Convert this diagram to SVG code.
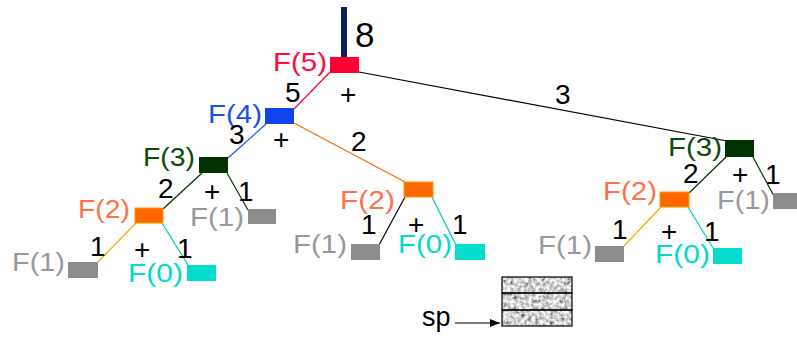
<svg xmlns="http://www.w3.org/2000/svg" width="797" height="338" viewBox="0 0 797 338">
<style>
text{font-family:"Liberation Sans",Arial,sans-serif}
.f{font-size:26.5px}
.n{font-size:28px;fill:#000}
.red{fill:#ff0a3c}
.blue{fill:#1a4ff0}
.dg{fill:#0a4a0a}
.or{fill:#ff7248}
.gr{fill:#999999}
.cy{fill:#00dcc8}
.bred{fill:#ff0033}
.bblue{fill:#1144ee}
.bdg{fill:#003300}
.bor{fill:#ff6600;stroke:#ff9900;stroke-width:1}
.bgr{fill:#8c8c8c}
.bcy{fill:#00ddcc}
line{stroke-width:1.2;fill:none}
</style>
<defs>
<filter id="noise" x="0" y="0" width="1" height="1">
<feTurbulence type="fractalNoise" baseFrequency="0.28" numOctaves="3" seed="7"/>
<feColorMatrix type="saturate" values="0"/>
<feComponentTransfer><feFuncR type="linear" slope="2.2" intercept="-0.45"/><feFuncG type="linear" slope="2.2" intercept="-0.45"/><feFuncB type="linear" slope="2.2" intercept="-0.45"/><feFuncA type="linear" slope="0" intercept="1"/></feComponentTransfer>
</filter>
<marker id="arr" markerWidth="10" markerHeight="8" refX="10" refY="4" orient="auto" markerUnits="userSpaceOnUse">
<path d="M0,0 L10,4 L0,8 Z" fill="#000"/>
</marker>
</defs>
<g id="connectors">
<line x1="330" y1="72" x2="294" y2="109" stroke="#ff0033"/>
<line x1="359" y1="72" x2="727" y2="141" stroke="#000"/>
<line x1="266" y1="124" x2="228" y2="158" stroke="#1a4ff0"/>
<line x1="294" y1="123" x2="405" y2="182" stroke="#ff6600"/>
<line x1="202" y1="173" x2="163" y2="209" stroke="#003300"/>
<line x1="227" y1="173" x2="248" y2="210" stroke="#003300"/>
<line x1="136" y1="223" x2="98" y2="262" stroke="#ffa500"/>
<line x1="162" y1="223" x2="188" y2="265" stroke="#00ccbb"/>
<line x1="405" y1="197" x2="379" y2="245" stroke="#000"/>
<line x1="432" y1="197" x2="456" y2="245" stroke="#00ccbb"/>
<line x1="726" y1="157" x2="689" y2="193" stroke="#003300"/>
<line x1="753" y1="157" x2="774" y2="196" stroke="#003300"/>
<line x1="661" y1="207" x2="624" y2="246" stroke="#ffa500"/>
<line x1="688" y1="207" x2="713" y2="248" stroke="#00ccbb"/>
<line x1="455" y1="323" x2="500" y2="323" stroke="#000" marker-end="url(#arr)"/>
</g>
<g id="root">
<rect x="341" y="7" width="6" height="51" fill="#0a1f5c"/>
<text x="355" y="47" font-size="35" fill="#000">8</text>
</g>
<g id="F5">
<rect class="bred" x="330" y="57" width="29" height="16"/>
<text class="f red" x="273" y="71" textLength="54" lengthAdjust="spacingAndGlyphs">F(5)</text>
<text class="n" x="285" y="102">5</text>
<text class="n" x="340" y="104">+</text>
<text class="n" x="555" y="104">3</text>
</g>
<g id="F4">
<rect class="bblue" x="265" y="108" width="29" height="16"/>
<text class="f blue" x="208" y="123" textLength="54" lengthAdjust="spacingAndGlyphs">F(4)</text>
<text class="n" x="229" y="144">3</text>
<text class="n" x="273" y="149">+</text>
<text class="n" x="351" y="151">2</text>
</g>
<g id="F3a">
<rect class="bdg" x="199" y="157" width="29" height="16"/>
<text class="f dg" x="143" y="166" textLength="52" lengthAdjust="spacingAndGlyphs">F(3)</text>
<text class="n" x="158" y="198">2</text>
<text class="n" x="204" y="201">+</text>
<text class="n" x="238" y="201">1</text>
</g>
<g id="F1a">
<rect class="bgr" x="248" y="209" width="28" height="15"/>
<text class="f gr" x="190" y="226" textLength="54" lengthAdjust="spacingAndGlyphs">F(1)</text>
</g>
<g id="F2a">
<rect class="bor" x="135" y="208" width="28" height="15"/>
<text class="f or" x="78" y="218" textLength="52" lengthAdjust="spacingAndGlyphs">F(2)</text>
<text class="n" x="90" y="256">1</text>
<text class="n" x="134" y="259">+</text>
<text class="n" x="177" y="258">1</text>
</g>
<g id="F1b">
<rect class="bgr" x="68" y="262" width="30" height="16"/>
<text class="f gr" x="12" y="271" textLength="53" lengthAdjust="spacingAndGlyphs">F(1)</text>
</g>
<g id="F0a">
<rect class="bcy" x="187" y="265" width="29" height="16"/>
<text class="f cy" x="128" y="282" textLength="55" lengthAdjust="spacingAndGlyphs">F(0)</text>
</g>
<g id="F2b">
<rect class="bor" x="404" y="182" width="29" height="15"/>
<text class="f or" x="340" y="209" textLength="55" lengthAdjust="spacingAndGlyphs">F(2)</text>
<text class="n" x="361" y="234">1</text>
<text class="n" x="408" y="234">+</text>
<text class="n" x="452" y="234">1</text>
</g>
<g id="F1c">
<rect class="bgr" x="351" y="244" width="29" height="16"/>
<text class="f gr" x="293" y="253" textLength="54" lengthAdjust="spacingAndGlyphs">F(1)</text>
</g>
<g id="F0b">
<rect class="bcy" x="455" y="244" width="30" height="16"/>
<text class="f cy" x="398" y="253" textLength="54" lengthAdjust="spacingAndGlyphs">F(0)</text>
</g>
<g id="F3b">
<rect class="bdg" x="725" y="140" width="29" height="17"/>
<text class="f dg" x="668" y="156" textLength="54" lengthAdjust="spacingAndGlyphs">F(3)</text>
<text class="n" x="683" y="183">2</text>
<text class="n" x="732" y="184">+</text>
<text class="n" x="765" y="184">1</text>
</g>
<g id="F1d">
<rect class="bgr" x="773" y="193" width="24" height="16"/>
<text class="f gr" x="717" y="209" textLength="53" lengthAdjust="spacingAndGlyphs">F(1)</text>
</g>
<g id="F2c">
<rect class="bor" x="660" y="192" width="29" height="15"/>
<text class="f or" x="603" y="200" textLength="54" lengthAdjust="spacingAndGlyphs">F(2)</text>
<text class="n" x="612" y="239">1</text>
<text class="n" x="661" y="241">+</text>
<text class="n" x="704" y="241">1</text>
</g>
<g id="F1e">
<rect class="bgr" x="595" y="246" width="29" height="16"/>
<text class="f gr" x="538" y="254" textLength="54" lengthAdjust="spacingAndGlyphs">F(1)</text>
</g>
<g id="F0c">
<rect class="bcy" x="713" y="248" width="29" height="16"/>
<text class="f cy" x="655" y="263" textLength="55" lengthAdjust="spacingAndGlyphs">F(0)</text>
</g>
<g id="stack">
<rect x="502" y="277" width="70" height="49" fill="#aaa" filter="url(#noise)"/>
<rect x="502" y="277" width="70" height="16" fill="none" stroke="#000" stroke-width="1.2"/>
<rect x="502" y="293" width="70" height="17" fill="none" stroke="#000" stroke-width="1.2"/>
<rect x="502" y="310" width="70" height="16" fill="none" stroke="#000" stroke-width="1.2"/>
</g>
<g id="sp">
<text x="422" y="326" font-size="27" fill="#000">sp</text>
</g>
</svg>
